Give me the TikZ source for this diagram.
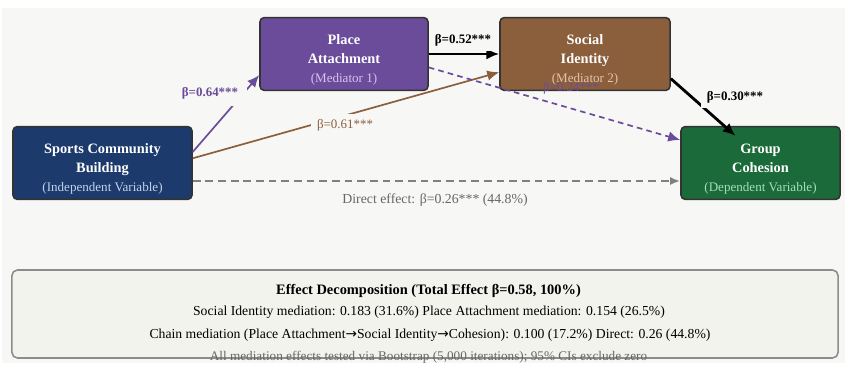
\documentclass[tikz,border=0pt]{standalone}
\usepackage{fontspec}
\setmainfont{Liberation Serif}
\newfontfamily\arrowfont{DejaVu Sans}
\usetikzlibrary{calc,arrows.meta,positioning}

\definecolor{bgcol}{HTML}{F7F7F5}
\definecolor{navybox}{HTML}{1C3A6B}
\definecolor{purplebox}{HTML}{6B4C9A}
\definecolor{brownbox}{HTML}{8B5E3C}
\definecolor{greenbox}{HTML}{1B6B3A}
\definecolor{navysub}{HTML}{C3D2EC}
\definecolor{purplesub}{HTML}{D4C3F0}
\definecolor{brownsub}{HTML}{E2C4A6}
\definecolor{greensub}{HTML}{A6DDB8}
\definecolor{sumfill}{HTML}{F3F3EE}
\definecolor{notegray}{HTML}{666666}

\newcommand{\boxstrut}{\rule{0pt}{15.5pt}}
\newcommand{\subline}[2]{{\mdseries\fontsize{9.3}{13.8}\selectfont\color{#1}#2}}

\begin{document}
\begin{tikzpicture}[
  x=0.025cm, y=-0.025cm,
  varbox/.style={rectangle, draw=black!80, line width=1.1pt, rounded corners=3pt, text centered, align=center, minimum height=1.8cm, text=white, font=\fontsize{10.2}{13.8}\selectfont\bfseries},
  lbl/.style={font=\fontsize{9.2}{11}\selectfont, fill=bgcol, inner xsep=4pt, inner ysep=3.5pt},
  path/.style={draw, line width=1.2pt, -{Latex[length=3mm, width=2.6mm]}},
  bigpath/.style={draw, line width=2pt, -{Latex[length=3.2mm, width=2.8mm]}},
  sumbox/.style={rectangle, draw=black!45, fill=sumfill, line width=1.1pt, rounded corners=4pt, minimum width=20.65cm, minimum height=2.2cm},
  sumtext/.style={font=\fontsize{9.75}{11}\selectfont}
]

  % Background
  \useasboundingbox (0,0) rectangle (845,365);
  \fill[bgcol] (2,8) rectangle (845,363);

  % ==================== VARIABLES ====================
  \node[varbox, fill=navybox, minimum width=4.475cm] (sports) at (102.5,163) {\boxstrut Sports Community\\ Building\\ \subline{navysub}{(Independent Variable)}};
  \node[varbox, fill=purplebox, minimum width=4.2cm] (place) at (344,54) {\boxstrut Place\\ Attachment\\ \subline{purplesub}{(Mediator 1)}};
  \node[varbox, fill=brownbox, minimum width=4.25cm] (social) at (585,54) {\boxstrut Social\\ Identity\\ \subline{brownsub}{(Mediator 2)}};
  \node[varbox, fill=greenbox, minimum width=3.975cm] (cohesion) at (760.5,163) {\boxstrut Group\\ Cohesion\\ \subline{greensub}{(Dependent Variable)}};

  % ==================== PATHS ====================
  % a path: sports -> place attachment
  \draw[path, purplebox] (sports.7) -- (place.194);
  \node[lbl, text=purplebox, font=\fontsize{9.2}{11}\selectfont\bfseries, inner xsep=6pt, inner ysep=5pt] (lbla) at (210,93) {β=0.64***};

  % sports -> social identity
  \draw[path, brownbox] (sports.3) -- (social.192);
  \node[lbl, text=brownbox] (lblb) at (345,125) {β=0.61***};

  % place attachment -> social identity
  \draw[bigpath, black] (place.east) -- (social.west);
  \node[lbl, font=\fontsize{9.2}{11}\selectfont\bfseries] (lblc) at (463,40) {β=0.52***};

  % place attachment -> cohesion
  \draw[path, purplebox, dash pattern=on 4pt off 3pt] (place.-9) -- (cohesion.164);
  \node[font=\fontsize{9.2}{11}\selectfont, text=purplebox, inner sep=1pt] (lbld) at (571,88) {β=0.24***};

  % social identity -> cohesion
  \draw[bigpath, black] (social.-16) -- ($(cohesion.north)+(-25,10)$);
  \node[lbl, font=\fontsize{9.2}{11}\selectfont\bfseries] (lble) at (735,97) {β=0.30***};

  % direct effect
  \draw[draw=gray, line width=1.4pt, dash pattern=on 5.5pt off 3.5pt, -{Latex[length=2.5mm, width=2mm]}] ([yshift=-0.45cm]sports.east) -- ([yshift=-0.45cm]cohesion.west);
  \node[lbl, text=notegray, font=\fontsize{9.8}{11}\selectfont] (lbldirect) at (435,200) {Direct effect: β=0.26*** (44.8\%)};

  % ==================== SUMMARY ====================
  \node[sumbox] (summary) at (425,314) {};
  \node[sumtext, font=\fontsize{10.25}{12}\selectfont\bfseries] (sumtitle) at (428.5,291) {Effect Decomposition (Total Effect β=0.58, 100\%)};
  \node[sumtext] (sumline1) at (429,312) {Social Identity mediation: 0.183 (31.6\%) Place Attachment mediation: 0.154 (26.5\%)};
  \node[sumtext] (sumline2) at (430,335) {Chain mediation (Place Attachment{\arrowfont →}Social Identity{\arrowfont →}Cohesion): 0.100 (17.2\%) Direct: 0.26 (44.8\%)};
  \node[sumtext, text=notegray, font=\fontsize{9.4}{11}\selectfont] (sumnote) at (428.5,357) {All mediation effects tested via Bootstrap (5,000 iterations); 95\% CIs exclude zero};

\end{tikzpicture}
\end{document}
